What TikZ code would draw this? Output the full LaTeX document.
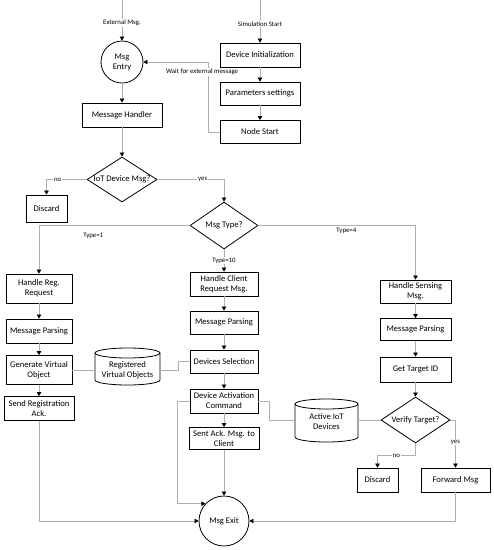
\documentclass[tikz,border=0pt]{standalone}
\usepackage{fontspec}
\setmainfont{Carlito}
\usetikzlibrary{shapes.geometric,arrows.meta,calc}
\newcommand\bfnt{\fontsize{8.6}{10}\selectfont}
\newcommand\lfnt{\fontsize{6.8}{8}\selectfont}
\definecolor{lgray}{RGB}{175,175,175}
\begin{document}
\begin{tikzpicture}[x=1pt,y=-1pt,
  box/.style={draw=black,line width=0.8pt,align=center,inner sep=1pt,font=\bfnt},
  circ/.style={circle,draw=black,line width=0.8pt,align=center,inner sep=0pt,font=\bfnt},
  dia/.style={diamond,draw=black,line width=0.8pt,inner sep=0pt},
  dtext/.style={font=\bfnt,inner sep=0pt},
  cylbox/.style={align=center,inner sep=0pt,font=\bfnt},
  cylline/.style={draw=black,line width=0.8pt},
  conn/.style={draw=lgray,line width=0.7pt,-{Triangle[width=4.5pt,length=4pt,color=black]}},
  link/.style={draw=lgray,line width=0.7pt},
  lbl/.style={font=\lfnt,inner sep=1pt,fill=white},
  lbln/.style={font=\lfnt,inner sep=1pt}
]
\fill[white] (0,0) rectangle (494,550);
\useasboundingbox (0,0) rectangle (494,550);

% top part
\coordinate (extin) at (122,0);
\coordinate (simin) at (260,0);
\node[circ,minimum size=42pt] (entry) at (122,62) {Msg\\Entry};
\node[box,minimum width=80pt,minimum height=24pt] (devinit) at (260,55) {Device Initialization};
\node[box,minimum width=80pt,minimum height=23pt] (params) at (260,93.5) {Parameters settings};
\node[box,minimum width=80pt,minimum height=23pt] (nstart) at (260,132) {Node Start};
\node[box,minimum width=80pt,minimum height=24pt] (handler) at (122,115) {Message Handler};
\node[dia,minimum width=70pt,minimum height=45pt,label={[dtext]center:IoT Device Msg?}] (iot) at (122,179.5) {};
\node[box,minimum width=41pt,minimum height=27pt] (disc1) at (46.5,208.5) {Discard};
\node[dia,minimum width=68pt,minimum height=47pt,label={[dtext]center:Msg Type?}] (mtype) at (224,225.5) {};

% left column
\node[box,minimum width=66pt,minimum height=29pt] (hreg) at (39,288.5) {Handle Reg.\\Request};
\node[box,minimum width=66pt,minimum height=24pt] (parse1) at (39,331) {Message Parsing};
\node[box,minimum width=66pt,minimum height=29pt] (genvo) at (39,370) {Generate Virtual\\Object};
\node[box,minimum width=70pt,minimum height=24pt] (sendreg) at (39,408.5) {Send Registration\\Ack.};

% middle column
\node[box,minimum width=68pt,minimum height=24pt] (hcli) at (224,284) {Handle Client\\Request Msg.};
\node[box,minimum width=68pt,minimum height=23pt] (parse2) at (224,322.5) {Message Parsing};
\node[box,minimum width=68pt,minimum height=23pt] (devsel) at (224,361.5) {Devices Selection};
\node[box,minimum width=68pt,minimum height=24pt] (devact) at (224,401) {Device Activation\\Command};
\node[box,minimum width=70pt,minimum height=22pt] (sentack) at (224,438.5) {Sent Ack. Msg. to\\Client};
\node[circ,minimum size=50pt] (exit) at (224,521) {Msg Exit};

% right column
\node[box,minimum width=71pt,minimum height=23pt] (hsens) at (415.5,291.5) {Handle Sensing\\Msg.};
\node[box,minimum width=71pt,minimum height=22pt] (parse3) at (415.5,329.5) {Message Parsing};
\node[box,minimum width=71pt,minimum height=25pt] (gettid) at (415.5,369.5) {Get Target ID};
\node[dia,minimum width=69pt,minimum height=46pt,label={[dtext]center:Verify Target?}] (verify) at (415.5,420) {};
\node[box,minimum width=41pt,minimum height=24pt] (disc2) at (377.5,480) {Discard};
\node[box,minimum width=69pt,minimum height=24pt] (fwd) at (455.5,480) {Forward Msg};

% cylinders
\node[cylbox,minimum width=65pt,minimum height=31pt] (regvo) at (127.5,370) {Registered\\Virtual Objects};
\draw[cylline] (95,353) -- (95,380) arc[start angle=180,end angle=0,x radius=32.5,y radius=5] -- (160,353);
\draw[cylline] (127.5,353) ellipse[x radius=32.5,y radius=5];
\node[cylbox,minimum width=63pt,minimum height=37pt] (aiot) at (326.5,421.5) {Active IoT\\Devices};
\draw[cylline] (295,404) -- (295,437) arc[start angle=180,end angle=0,x radius=31.5,y radius=5] -- (358,404);
\draw[cylline] (326.5,404) ellipse[x radius=31.5,y radius=5];

% connectors top
\draw[conn] (extin) -- node[lbl,pos=0.56]{External Msg.} (entry);
\draw[conn] (simin) -- node[lbl,pos=0.56]{Simulation Start} (devinit);
\draw[conn] (devinit) -- (params);
\draw[conn] (params) -- (nstart);
\draw[conn] (nstart.west) -- ++(-11,0) |- node[lbl,pos=0.43,xshift=-6.5pt]{Wait for external message} (entry.east);
\draw[conn] (entry) -- (handler);
\draw[conn] (handler) -- (iot);
\draw[conn] (iot.west) -| node[lbl,pos=0.36]{no} (disc1.north);
\draw[conn] (iot.east) -| node[lbl,pos=0.34]{yes} (mtype.north);
\draw[conn] (mtype.west) -| node[lbln,pos=0.32,yshift=-10.5pt]{Type=1} (hreg.north);
\draw[conn] (mtype.east) -| node[lbln,pos=0.28,yshift=-5.5pt]{Type=4} (hsens.north);
\draw[conn] (mtype.south) -- node[lbl,pos=0.5]{Type=10} (hcli.north);

% left column connectors
\draw[conn] (hreg) -- (parse1);
\draw[conn] (parse1) -- (genvo);
\draw[conn] (genvo) -- (sendreg.north -| genvo.south);
\draw[link] (genvo.east) -- (genvo.east -| regvo.west);
\draw[link] (regvo.east |- genvo.east) -- ++(18,0) |- (devsel.west);
\draw[conn] (sendreg.south) |- (exit.west);

% middle column connectors
\draw[conn] (hcli) -- (parse2);
\draw[conn] (parse2) -- (devsel);
\draw[conn] (devsel) -- (devact);
\draw[conn] (devact) -- (sentack);
\draw[conn] (sentack) -- (exit);
\draw[conn] (devact.west) -- ++(-12,0) |- (exit.137);
\draw[link] (devact.east) -- ++(11,0) |- (aiot.west |- verify.west);
\draw[link] (aiot.east |- verify.west) -- (verify.west);

% right column connectors
\draw[conn] (hsens) -- (parse3);
\draw[conn] (parse3) -- (gettid);
\draw[conn] (gettid) -- (verify);
\draw[conn] (verify.east) -| node[lbl,pos=0.73]{yes} (fwd.north);
\draw[conn] (verify.south) -- ++(0,12) -| node[lbl,pos=0.25]{no} (disc2.north);
\draw[conn] (fwd.south) |- (exit.east);
\end{tikzpicture}
\end{document}
